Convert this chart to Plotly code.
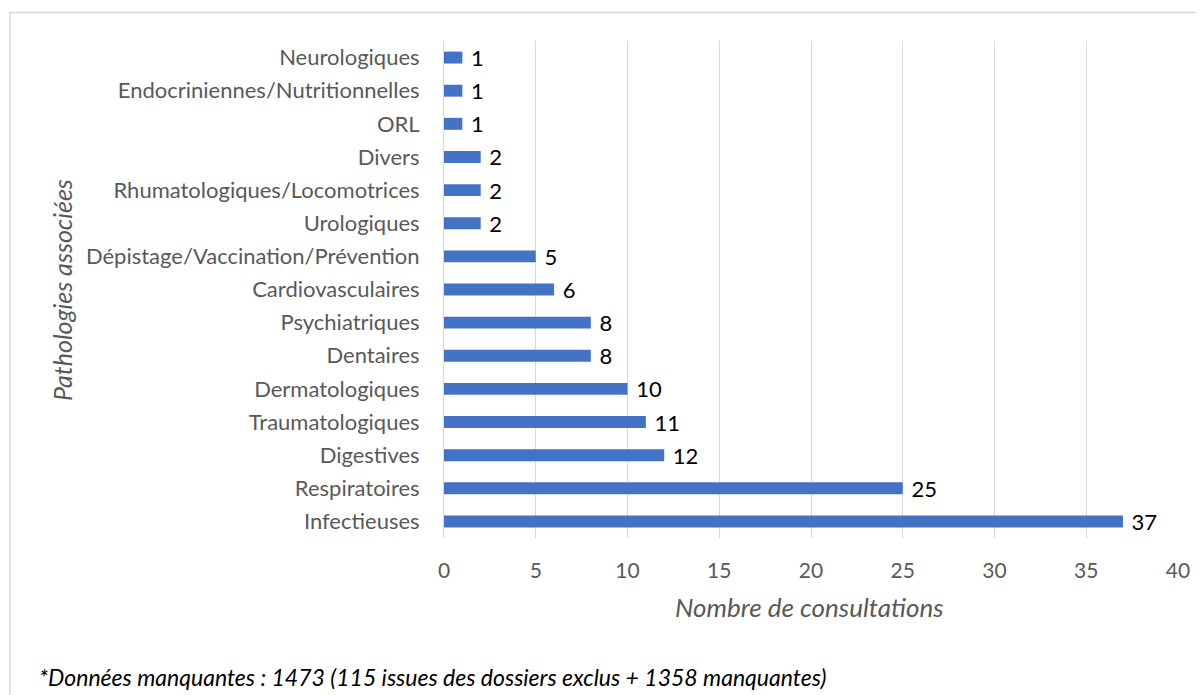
import plotly.graph_objects as go

# catégories de bas en haut
categories = ['Infectieuses', 'Respiratoires', 'Digestives', 'Traumatologiques', 'Dermatologiques',
              'Dentaires', 'Psychiatriques', 'Cardiovasculaires', 'Dépistage/Vaccination/Prévention',
              'Urologiques', 'Rhumatologiques/Locomotrices', 'Divers', 'ORL',
              'Endocriniennes/Nutritionnelles', 'Neurologiques']
values = [37, 25, 12, 11, 10, 8, 8, 6, 5, 2, 2, 2, 1, 1, 1]
x_ticks = [0, 5, 10, 15, 20, 25, 30, 35, 40]

font_name = 'Lato'
grid_color = '#D9D9D9'
label_color = '#595959'

fig = go.Figure(go.Bar(
    x=values, y=categories, orientation='h', width=0.36,
    marker=dict(color='#4472C4', line=dict(width=0)),
    text=values, texttemplate='\u00a0%{text}', textposition='outside', cliponaxis=False,
    constraintext='none',
    textfont=dict(family=font_name, size=22, color='black'),
))

# la page ajoute 8px de marge autour du graphique
fig.update_layout(
    width=1204, height=695, plot_bgcolor='white', paper_bgcolor='white',
    margin=dict(l=436, r=34, t=33, b=165),
    showlegend=False, bargap=0.64,
    font=dict(family=font_name, size=22, color=label_color),
)
fig.update_xaxes(range=[0, 40], tickvals=x_ticks, showgrid=True, gridcolor=grid_color, gridwidth=1,
                 zeroline=False, showline=False, ticks='', ticklabelstandoff=18,
                 tickfont=dict(size=21, color=label_color))
fig.update_yaxes(showgrid=False, zeroline=False, showline=True, linecolor=grid_color, linewidth=1,
                 ticks='', ticklabelstandoff=19, tickfont=dict(size=22, color=label_color))

# cadre du graphique
fig.add_shape(type='rect', xref='paper', yref='paper', x0=-0.5913, x1=1.2, y0=-0.6, y1=1.0573,
              line=dict(color='#D9D9D9', width=1.5), fillcolor='rgba(0,0,0,0)', layer='below')

fig.add_annotation(text='<i>Pathologies associées</i>', xref='paper', yref='paper', x=-0.5204, y=0.499,
                   textangle=-90, showarrow=False, font=dict(size=25, color=label_color),
                   xanchor='center', yanchor='middle')
fig.add_annotation(text='<i>Nombre de consultations</i>', xref='paper', yref='paper', x=0.4986, y=-0.1388,
                   showarrow=False, font=dict(size=26, color=label_color), xanchor='center', yanchor='middle')
fig.add_annotation(text='<i>*Données manquantes : 1473 (115 issues des dossiers exclus + 1358 manquantes)</i>',
                   xref='paper', yref='paper', x=-0.5545, y=-0.2797, showarrow=False,
                   font=dict(size=23, color='black'), xanchor='left', yanchor='middle')

fig.write_html("out.html")
